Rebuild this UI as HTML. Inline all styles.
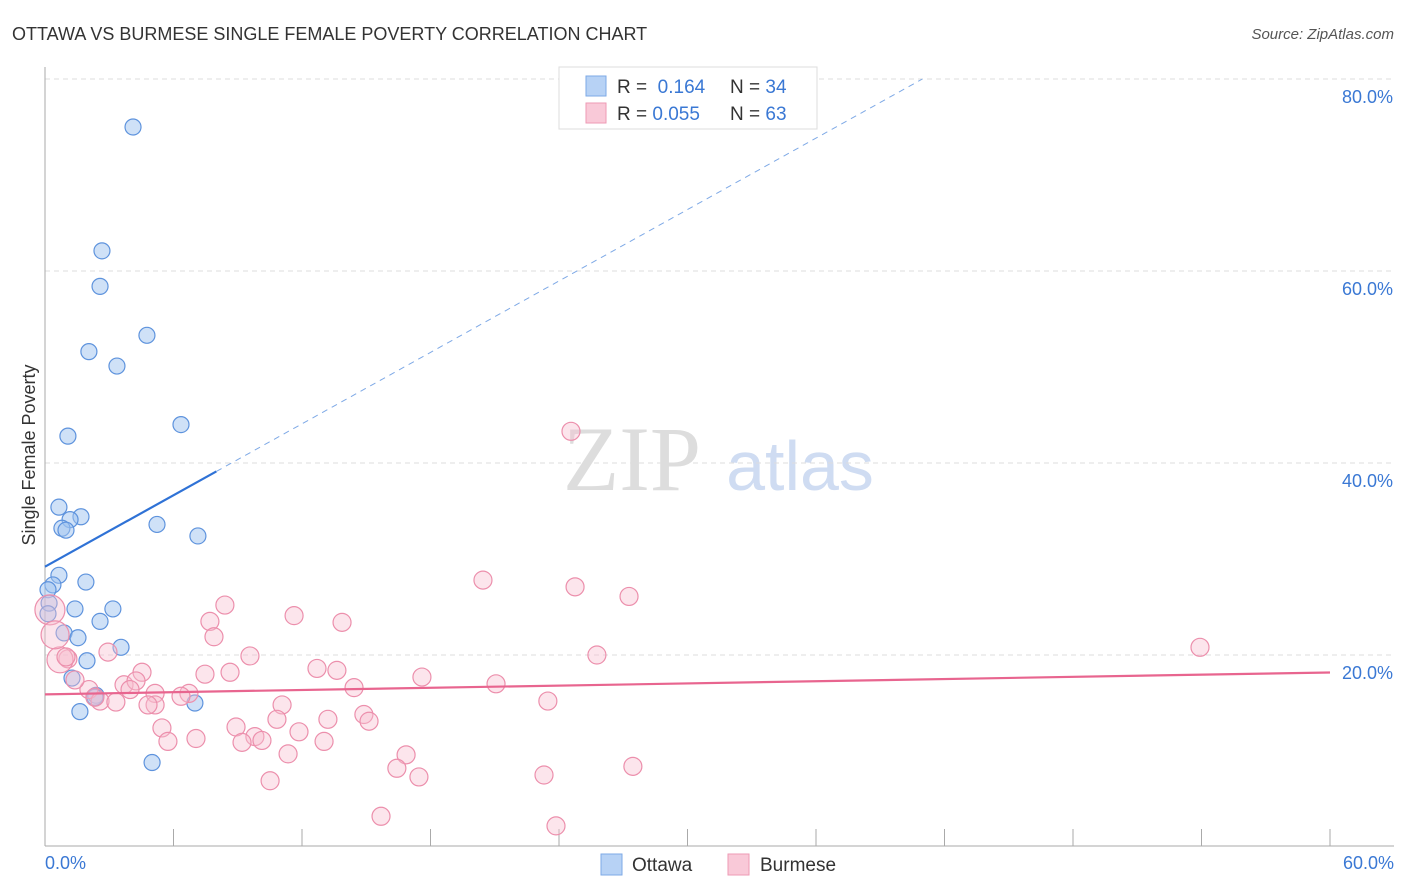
<!DOCTYPE html>
<html><head><meta charset="utf-8"><style>
body{margin:0;background:#fff;font-family:"Liberation Sans",sans-serif}
svg{display:block}
</style></head><body>
<svg id="chart" width="1406" height="892">
<text x="12" y="40" font-size="18" fill="#333">OTTAWA VS BURMESE SINGLE FEMALE POVERTY CORRELATION CHART</text>
<text x="1394" y="39" font-size="15" fill="#555" font-style="italic" text-anchor="end">Source: ZipAtlas.com</text>
<text x="632" y="490" font-size="92" fill="#ddd" font-family="Liberation Serif,serif" text-anchor="middle">ZIP</text>
<text x="800" y="490" font-size="70" fill="#cfdcf2" text-anchor="middle">atlas</text>
<g id="grid"></g><g id="axes"></g><g id="pts"></g><g id="lines"></g>
<text x="35" y="455" font-size="18" fill="#333" text-anchor="middle" transform="rotate(-90 35 455)">Single Female Poverty</text>
<text x="45" y="869" font-size="18" fill="#3a78d4">0.0%</text>
<text x="1394" y="869" font-size="18" fill="#3a78d4" text-anchor="end">60.0%</text>
<g>
<rect x="559" y="67" width="258" height="62" fill="#fff" stroke="#ddd"/>
<rect x="586" y="76" width="20" height="20" fill="#b7d2f5" stroke="#7ea9e6"/>
<rect x="586" y="103" width="20" height="20" fill="#f9c9d8" stroke="#ee9ab4"/>
<text x="617" y="93" font-size="19" fill="#333">R = <tspan fill="#3a78d4">&#160;0.164</tspan><tspan x="730">N = </tspan><tspan fill="#3a78d4">34</tspan></text>
<text x="617" y="120" font-size="19" fill="#333">R = <tspan fill="#3a78d4">0.055</tspan><tspan x="730">N = </tspan><tspan fill="#3a78d4">63</tspan></text>
</g>
<g>
<rect x="601" y="854" width="21" height="21" fill="#b7d2f5" stroke="#7ea9e6"/>
<text x="632" y="871" font-size="19" fill="#333">Ottawa</text>
<rect x="728" y="854" width="21" height="21" fill="#f9c9d8" stroke="#ee9ab4"/>
<text x="760" y="871" font-size="19" fill="#333">Burmese</text>
</g>
</svg>
<script>
const yTicks=[20,40,60,80];
const xTicks=[0,6,12,18,24,30,36,42,48,54,60];
const ottawaX=[4.11,2.66,2.57,4.76,2.05,3.36,6.35,1.07,0.65,1.68,1.17,0.79,0.98,5.23,7.14,0.65,0.37,1.91,0.14,0.19,1.40,3.17,0.14,2.57,0.89,1.54,3.55,1.96,1.26,2.38,2.33,7.00,1.63,5.00];
const ottawaY=[75.0,62.1,58.4,53.3,51.6,50.1,44.0,42.8,35.4,34.4,34.1,33.2,33.0,33.6,32.4,28.3,27.3,27.6,26.8,25.4,24.8,24.8,24.3,23.5,22.3,21.8,20.8,19.4,17.6,15.8,15.6,15.0,14.1,8.8];
const burmeseX=[24.56,20.45,24.75,27.27,8.40,11.63,7.70,13.87,7.89,53.93,2.94,9.57,25.77,1.07,0.70,4.53,12.70,13.63,17.60,7.47,8.64,3.69,4.25,5.14,21.06,14.43,6.72,6.35,2.05,2.57,3.31,5.14,4.81,11.07,23.48,14.89,10.83,13.21,15.13,8.92,5.46,11.86,9.80,10.13,5.74,7.05,9.20,13.03,11.35,16.86,16.43,17.46,27.45,23.30,10.51,15.69,23.86,0.23,0.47,1.40,2.33,0.98,3.97];
const burmeseY=[43.3,27.8,27.1,26.1,25.2,24.1,23.5,23.4,21.9,20.8,20.3,19.9,20.0,19.6,19.5,18.2,18.6,18.4,17.7,18.0,18.2,16.9,17.3,16.0,17.0,16.6,16.0,15.7,16.4,15.2,15.1,14.8,14.8,14.8,15.2,13.8,13.3,13.3,13.1,12.5,12.4,12.0,11.5,11.1,11.0,11.3,10.9,11.0,9.7,9.6,8.2,7.3,8.4,7.5,6.9,3.2,2.2,24.7,22.1,17.4,15.6,19.8,16.4];
const burmeseR=[9,9,9,9,9,9,9,9,9,9,9,9,9,9,13,9,9,9,9,9,9,9,9,9,9,9,9,9,9,9,9,9,9,9,9,9,9,9,9,9,9,9,9,9,9,9,9,9,9,9,9,9,9,9,9,9,9,15,14,9,9,9,9];
const ottawaTrend=[29.2,1.24];
const burmeseTrend=[15.9,0.038];
const NS='http://www.w3.org/2000/svg';
const X=v=>45+v*(1285/60), Y=v=>847-v*9.6;
function mk(p,t,a){const e=document.createElementNS(NS,t);for(const k in a)e.setAttribute(k,a[k]);document.getElementById(p).appendChild(e);return e;}
yTicks.forEach(t=>{
 const l=mk('grid','line',{x1:45,x2:1394,y1:Y(t),y2:Y(t),stroke:'#ddd','stroke-dasharray':'5,4'});
 
 
 const tx=mk('grid','text',{x:1393,y:Y(t)+24,'font-size':18,fill:'#3a78d4','text-anchor':'end'});
 tx.textContent=t.toFixed(1)+'%';
 
 
});
const ax=mk('axes','line',{x1:45,x2:45,y1:67,y2:846,stroke:'#aaa'});


const bx=mk('axes','line',{x1:45,x2:1394,y1:846,y2:846,stroke:'#aaa'});


xTicks.forEach(t=>{
 const l=mk('axes','line',{x1:X(t),x2:X(t),y1:829,y2:846,stroke:'#aaa'});
 
 
});
ottawaX.forEach((x,i)=>{
 const c=mk('pts','circle',{cx:X(x),cy:Y(ottawaY[i]),r:8,fill:'rgba(160,196,240,0.5)',stroke:'#5e93dd','stroke-width':1.2});
 
 
});
burmeseX.forEach((x,i)=>{
 const c=mk('pts','circle',{cx:X(x),cy:Y(burmeseY[i]),r:burmeseR[i],fill:'rgba(248,190,208,0.4)',stroke:'#ec8fac','stroke-width':1.2});
 
 
});
const oy=x=>ottawaTrend[0]+ottawaTrend[1]*x;
let l1=mk('lines','line',{x1:X(0),y1:Y(oy(0)),x2:X(8),y2:Y(oy(8)),stroke:'#2f72d6','stroke-width':2.2});


const xe=(80-ottawaTrend[0])/ottawaTrend[1];
let l2=mk('lines','line',{x1:X(8),y1:Y(oy(8)),x2:X(xe),y2:Y(80),stroke:'#7ea9e6','stroke-width':1,'stroke-dasharray':'6,5'});


const by=x=>burmeseTrend[0]+burmeseTrend[1]*x;
let l3=mk('lines','line',{x1:X(0),y1:Y(by(0)),x2:X(60),y2:Y(by(60)),stroke:'#e8658f','stroke-width':2.2});


</script>
</body></html>
